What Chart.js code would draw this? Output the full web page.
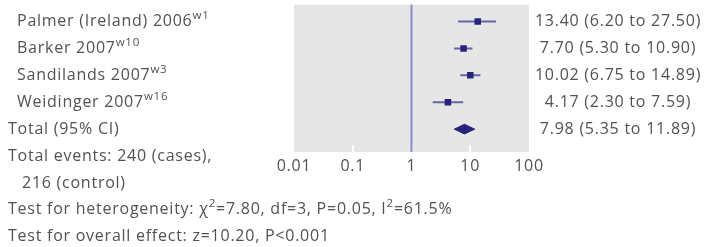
<!DOCTYPE html>
<html>
<head>
<meta charset="utf-8">
<script src="https://cdn.jsdelivr.net/npm/chart.js@4.4.1/dist/chart.umd.min.js"></script>
<style>
  html, body { margin: 0; padding: 0; background: #fff; }
  #wrap { width: 706px; height: 247px; position: relative; }
</style>
</head>
<body>
<div id="wrap"><canvas id="chart"></canvas></div>
<script>
// study rows (^{..} marks a superscript)
const studies = ["Palmer (Ireland) 2006^{w1}", "Barker 2007^{w10}", "Sandilands 2007^{w3}", "Weidinger 2007^{w16}"];
const oddsRatio = [13.40, 7.70, 10.02, 4.17];
const ciLower = [6.20, 5.30, 6.75, 2.30];
const ciUpper = [27.50, 10.90, 14.89, 7.59];

const totalLabel = "Total (95% CI)";
const totalOR = 7.98;
const totalLower = 5.35;
const totalUpper = 11.89;

const xTicks = [0.01, 0.1, 1, 10, 100];

const footLines = [
    "Total events: 240 (cases),",
    "216 (control)",
    "Test for heterogeneity: χ^{2}=7.80, df=3, P=0.05, I^{2}=61.5%",
    "Test for overall effect: z=10.20, P<0.001"
];

const FONT = '"Open Sans", "Noto Sans", sans-serif';
const SPACING = "0.75px";
const TEXT_COLOR = "#525252";
const MARK_COLOR = "#24247a";
const WHISKER_COLOR = "#6565a1";
const NULL_COLOR = "#8b8bc3";
const totalRow = studies.length;
const yMin = -0.63, yMax = 4.85;

function drawRich(ctx, str, x, y, align) {
    const parts = [];
    const re = /\^\{([^}]*)\}/g;
    let last = 0, m;
    while ((m = re.exec(str)) !== null) {
        if (m.index > last) parts.push({ t: str.slice(last, m.index), sup: false });
        parts.push({ t: m[1], sup: true });
        last = re.lastIndex;
    }
    if (last < str.length) parts.push({ t: str.slice(last), sup: false });

    const normal = "16px " + FONT;
    const small = "11.5px " + FONT;
    ctx.letterSpacing = SPACING;
    let width = 0;
    parts.forEach(p => {
        ctx.font = p.sup ? small : normal;
        width += ctx.measureText(p.t).width;
    });
    let cx = align === "center" ? x - width / 2 : x;
    ctx.textAlign = "left";
    ctx.textBaseline = "middle";
    ctx.fillStyle = TEXT_COLOR;
    parts.forEach(p => {
        ctx.font = p.sup ? small : normal;
        ctx.fillText(p.t, cx, p.sup ? y - 6 : y);
        cx += ctx.measureText(p.t).width;
    });
}

const forestText = {
    id: "forestText",
    beforeDraw(chart) {
        const { ctx, chartArea } = chart;
        ctx.save();
        ctx.fillStyle = "#e6e6e6";
        ctx.fillRect(chartArea.left, chartArea.top, chartArea.right - chartArea.left, chartArea.bottom - chartArea.top);
        // white tick marks inside the plot
        const xs = chart.scales.x;
        ctx.strokeStyle = "#ffffff";
        ctx.lineWidth = 2;
        xTicks.forEach(v => {
            if (v === xs.min || v === xs.max) return;
            const px = Math.round(xs.getPixelForValue(v));
            ctx.beginPath();
            ctx.moveTo(px, chartArea.bottom);
            ctx.lineTo(px, chartArea.bottom - 7);
            ctx.stroke();
        });
        ctx.restore();
        // wider tracking for the axis labels too
        ctx.letterSpacing = SPACING;
    },
    afterDraw(chart) {
        const { ctx } = chart;
        const ys = chart.scales.y;
        ctx.save();
        studies.forEach((s, i) => {
            const y = ys.getPixelForValue(i);
            drawRich(ctx, s, 17, y, "left");
            drawRich(ctx, `${oddsRatio[i].toFixed(2)} (${ciLower[i].toFixed(2)} to ${ciUpper[i].toFixed(2)})`, 618, y, "center");
        });
        const ty = ys.getPixelForValue(totalRow);
        drawRich(ctx, totalLabel, 8, ty, "left");
        drawRich(ctx, `${totalOR.toFixed(2)} (${totalLower.toFixed(2)} to ${totalUpper.toFixed(2)})`, 618, ty, "center");
        footLines.forEach((line, k) => {
            const y = ty + (k + 1) * 26.5 + 1;
            drawRich(ctx, line, k === 1 ? 22 : 8, y, "left");
        });
        ctx.restore();
    }
};

const whiskers = studies.map((s, i) => ({
    type: "line",
    data: [{ x: ciLower[i], y: i }, { x: ciUpper[i], y: i }],
    borderColor: WHISKER_COLOR,
    borderWidth: 2,
    pointRadius: 0,
    order: 2
}));

const diamondHalf = 0.18;

new Chart(document.getElementById("chart"), {
    type: "scatter",
    data: {
        datasets: [
            {
                type: "line",
                data: [{ x: 1, y: yMin }, { x: 1, y: yMax }],
                borderColor: NULL_COLOR,
                borderWidth: 2,
                pointRadius: 0,
                order: 3
            },
            ...whiskers,
            {
                data: oddsRatio.map((v, i) => ({ x: v, y: i })),
                pointStyle: "rect",
                pointRadius: 4.6,
                backgroundColor: MARK_COLOR,
                borderWidth: 0,
                order: 1
            },
            {
                type: "line",
                data: [
                    { x: totalLower, y: totalRow },
                    { x: totalOR, y: totalRow - diamondHalf },
                    { x: totalUpper, y: totalRow },
                    { x: totalOR, y: totalRow + diamondHalf },
                    { x: totalLower, y: totalRow }
                ],
                fill: "shape",
                backgroundColor: MARK_COLOR,
                borderColor: MARK_COLOR,
                borderWidth: 1,
                pointRadius: 0,
                tension: 0,
                order: 1
            }
        ]
    },
    options: {
        responsive: true,
        maintainAspectRatio: false,
        animation: false,
        layout: { padding: { left: 294, right: 177, top: 4, bottom: 73 } },
        plugins: { legend: { display: false }, tooltip: { enabled: false } },
        scales: {
            x: {
                type: "logarithmic",
                min: 0.01,
                max: 100,
                afterBuildTicks: scale => { scale.ticks = xTicks.map(v => ({ value: v })); },
                afterFit: scale => { scale.height = 22; },
                grid: { display: false, drawTicks: false },
                border: { display: false },
                ticks: {
                    autoSkip: false,
                    maxRotation: 0,
                    padding: 5,
                    color: TEXT_COLOR,
                    font: { family: FONT, size: 16 },
                    callback: v => String(v)
                }
            },
            y: {
                type: "linear",
                min: yMin,
                max: yMax,
                reverse: true,
                display: false
            }
        }
    },
    plugins: [forestText]
});
</script>
</body>
</html>
